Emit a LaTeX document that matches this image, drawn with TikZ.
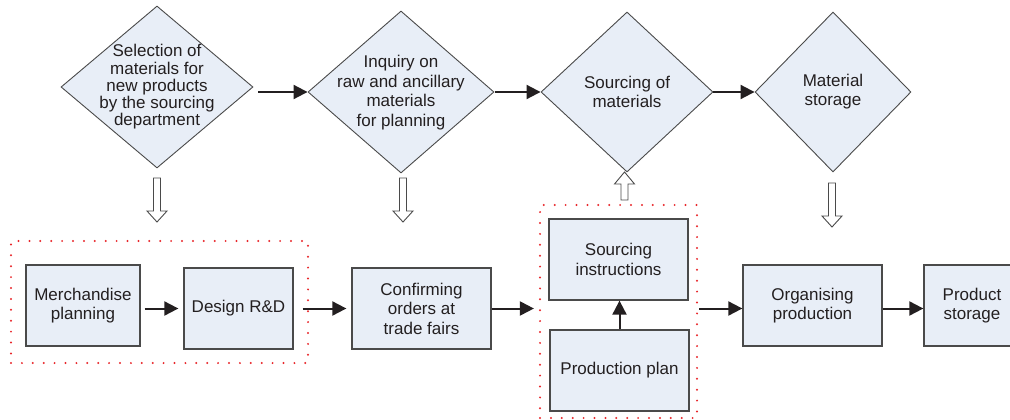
\documentclass[tikz,border=0pt]{standalone}
\usepackage{fontspec}
\setmainfont{Liberation Sans}
\usetikzlibrary{shapes.geometric,arrows.meta,calc}
\definecolor{boxfill}{HTML}{E8EEF7}
\definecolor{edge}{HTML}{4A4A4A}
\definecolor{ink}{HTML}{231F20}
\definecolor{dotred}{HTML}{E8262A}

% hollow block arrow: x, tail y, head-base y, tip y
\newcommand\hollowarr[4]{%
  \draw[hollowarrow] (#1-3.5,#2) -- (#1-3.5,#3) -- (#1-10,#3) -- (#1,#4)
    -- (#1+10,#3) -- (#1+3.5,#3) -- (#1+3.5,#2) -- cycle;}

\begin{document}
\begin{tikzpicture}[x=1pt,y=-1pt,
  decision/.style 2 args={diamond, draw=edge, line width=0.9pt, fill=boxfill,
    inner sep=0pt, minimum width=#1, minimum height=#2},
  dtext/.style={align=center, text=ink, inner sep=0pt,
    font=\fontsize{17}{19.5}\selectfont},
  process/.style 2 args={draw=edge, line width=1.3pt, fill=boxfill, align=center,
    text=ink, inner sep=0pt, minimum width=#1, minimum height=#2,
    font=\fontsize{17}{19.5}\selectfont},
  group/.style={draw=dotred, line width=2.2pt, line cap=round,
    dash pattern=on 0pt off 10.9pt, inner sep=0pt},
  flow/.style={draw=ink, line width=2pt, -{Triangle[length=14pt,width=14pt]}},
  hollowarrow/.style={draw=edge, line width=0.9pt, fill=white, line join=miter}
]
\useasboundingbox (0,0) rectangle (1010,420);
\clip (0,0) rectangle (1010,420);

% decisions along the top
\node[decision={192}{162}] (d1) at (157,87) {};
\node[decision={186}{162}] (d2) at (401,92) {};
\node[decision={172}{160}] (d3) at (627,92) {};
\node[decision={156}{160}] (d4) at (833,92) {};

\node[dtext, font=\fontsize{17}{17.3}\selectfont] (t1) at (157,87)
  {Selection of\\materials for\\new products\\by the sourcing\\department};
\node[dtext] (t2) at (401,92.5) {Inquiry on\\raw and ancillary\\materials\\for planning};
\node[dtext] (t3) at (627,92) {Sourcing of\\materials};
\node[dtext] (t4) at (833,91.5) {Material\\storage};

\draw[flow, shorten <=5pt] (d1.east |- d2.west) -- (d2.west);
\draw[flow, shorten <=1pt] (d2.east) -- (d3.west);
\draw[flow] (d3.east) -- (d4.west);

% dotted groupings
\node[group, minimum width=297, minimum height=122] (grp1) at (159.5,302) {};
\node[group, minimum width=157, minimum height=213] (grp2) at (618.5,311.5) {};

% process boxes
\node[process={114}{81}] (merch) at (83,305.5) {Merchandise\\planning};
\node[process={109}{81}] (design) at (238.5,308.5) {Design R\&D};
\node[process={139}{81}] (conf) at (421.5,308.5) {Confirming\\orders at\\trade fairs};
\node[process={139}{81}] (sinst) at (618.5,259.5) {Sourcing\\instructions};
\node[process={139}{81}] (pplan) at (619.5,370.5) {Production plan};
\node[process={139}{81}] (org) at (812.5,305.5) {Organising\\production};
\node[process={96}{81}] (pstore) at (972,305.5) {Product\\storage};

\draw[flow, shorten <=4pt, shorten >=5pt] (merch.east |- design.west) -- (design.west);
\draw[flow, shorten <=9pt, shorten >=5pt] (design.east) -- (conf.west);
\draw[flow, shorten >=5pt] (conf.east) -- (grp2.west |- conf.east);
\draw[flow, shorten <=1pt] (grp2.east |- conf.east) -- (org.west |- conf.east);
\draw[flow] (org.east |- conf.east) -- (pstore.west |- conf.east);
\draw[flow] (pplan.north) -- (pplan.north |- sinst.south);

% hollow block arrows between the rows
\hollowarr{157}{178}{211}{222}
\hollowarr{403}{178}{211}{222}
\hollowarr{832}{183}{216}{227}
\hollowarr{624.5}{200}{184}{172}
\end{tikzpicture}
\end{document}
